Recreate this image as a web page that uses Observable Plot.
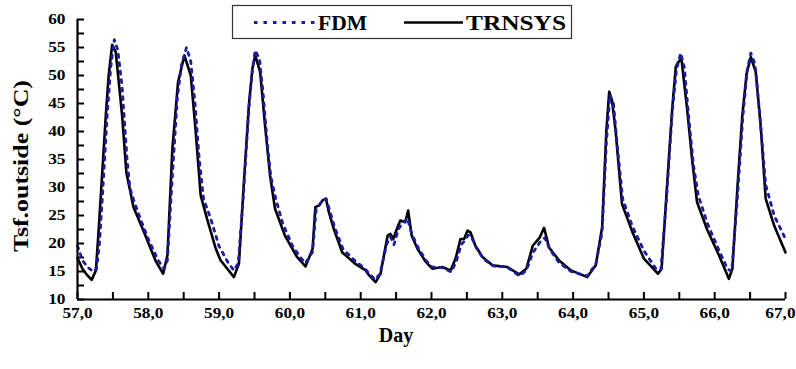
<!DOCTYPE html>
<html>
<head>
<meta charset="utf-8">
<script src="https://cdn.jsdelivr.net/npm/d3@7"></script>
<script src="https://cdn.jsdelivr.net/npm/@observablehq/plot@0.6"></script>
<style>
  html, body { margin: 0; padding: 0; background: #fff; }
  #chart { width: 796px; height: 369px; }
</style>
</head>
<body>
<div id="chart"></div>
<script>
// ---- Data ----
const seriesNames = ["FDM", "TRNSYS"];

const trnsysDay = [57.00,57.07,57.14,57.20,57.26,57.30,57.40,57.44,57.49,57.54,57.63,57.69,57.79,57.94,58.10,58.21,58.27,58.34,58.42,58.51,58.60,58.67,58.74,58.83,58.95,59.02,59.21,59.28,59.35,59.42,59.47,59.51,59.58,59.65,59.72,59.79,59.93,60.10,60.22,60.32,60.36,60.41,60.46,60.51,60.55,60.62,60.74,60.93,61.07,61.12,61.21,61.28,61.38,61.42,61.46,61.52,61.56,61.63,61.67,61.72,61.80,61.92,62.01,62.15,62.27,62.34,62.41,62.46,62.51,62.55,62.62,62.72,62.86,63.07,63.24,63.34,63.43,63.53,63.59,63.66,63.80,63.97,64.20,64.32,64.41,64.47,64.51,64.55,64.60,64.69,64.83,65.00,65.20,65.25,65.33,65.40,65.45,65.48,65.53,65.61,65.68,65.75,65.89,66.06,66.20,66.25,66.32,66.39,66.45,66.51,66.58,66.65,66.72,66.84,67.00];
const trnsysT   = [17.4,15.5,14.3,13.5,15.2,22.6,42.9,50.0,55.5,54.2,42.9,32.7,26.5,22.0,17.0,14.6,17.9,36.9,48.8,53.6,50.0,39.9,28.6,24.4,19.2,17.0,14.0,16.4,30.9,44.6,51.2,53.6,50.6,40.9,32.1,26.2,21.4,17.6,15.9,19.0,26.5,26.8,27.7,28.0,25.6,22.6,18.4,16.3,15.2,14.3,13.1,14.6,21.4,21.7,20.8,22.9,24.1,23.8,25.9,21.4,19.1,16.7,15.5,15.8,15.2,17.3,20.8,20.8,22.3,22.0,19.6,17.6,16.1,15.8,14.5,15.5,19.6,21.1,22.8,19.3,17.0,15.2,14.0,16.1,22.9,40.2,47.1,45.5,40.2,27.1,22.3,17.3,14.6,15.5,30.9,44.1,51.5,52.3,53.0,44.1,35.1,27.4,22.6,17.9,13.7,15.5,29.8,42.9,50.3,53.3,50.6,40.9,28.0,23.2,18.4];

const fdmDay = [57.00,57.07,57.14,57.22,57.27,57.31,57.35,57.42,57.47,57.52,57.57,57.63,57.70,57.74,57.80,57.90,58.01,58.14,58.22,58.27,58.33,58.41,58.47,58.54,58.60,58.66,58.72,58.78,58.88,59.00,59.13,59.21,59.27,59.34,59.42,59.47,59.51,59.57,59.62,59.68,59.73,59.80,59.90,60.04,60.15,60.22,60.32,60.37,60.45,60.51,60.56,60.63,60.75,60.93,61.05,61.13,61.20,61.27,61.37,61.42,61.47,61.53,61.58,61.66,61.72,61.80,61.92,62.01,62.15,62.28,62.35,62.42,62.47,62.52,62.56,62.63,62.73,62.87,63.07,63.24,63.34,63.43,63.53,63.60,63.67,63.80,63.97,64.20,64.32,64.41,64.47,64.52,64.57,64.62,64.70,64.83,65.00,65.17,65.24,65.32,65.40,65.46,65.52,65.57,65.63,65.70,65.77,65.90,66.06,66.18,66.24,66.32,66.40,66.46,66.51,66.57,66.63,66.72,66.84,67.00];
const fdmT   = [19.6,17.0,15.8,15.0,15.5,20.0,28.0,43.0,51.5,56.4,54.5,48.0,35.0,30.0,27.5,24.0,20.5,17.0,15.5,17.0,30.0,46.0,52.0,55.0,52.5,45.0,35.0,28.0,24.5,19.5,16.5,15.2,16.5,28.0,44.0,51.0,54.5,53.0,47.0,38.0,32.0,28.0,23.5,19.5,17.5,16.5,18.5,26.0,27.5,28.0,26.0,23.0,19.0,16.8,15.6,14.5,13.6,14.5,20.0,21.2,19.8,22.5,23.5,24.5,21.8,19.5,17.0,15.8,15.7,14.9,16.8,19.8,20.5,21.5,21.3,19.3,17.3,16.0,15.8,14.2,15.2,18.3,20.2,21.0,19.0,16.6,15.0,14.2,16.3,22.0,38.0,46.5,45.0,38.0,28.0,23.3,18.7,15.5,15.3,28.0,43.5,51.0,54.0,51.5,43.0,34.0,28.5,23.5,18.8,15.5,15.0,28.0,43.0,51.0,54.0,52.0,44.0,30.5,25.0,20.8];

const xMajorTicks = [57,58,59,60,61,62,63,64,65,66,67];
const xMinorTicks = [57.5,58.5,59.5,60.5,61.5,62.5,63.5,64.5,65.5,66.5];
const yMajorTicks = [10,15,20,25,30,35,40,45,50,55,60];
const yMinorTicks = [12.5,17.5,22.5,27.5,32.5,37.5,42.5,47.5,52.5,57.5];

const xTitle = "Day";
const yTitle = "Tsf.outside (°C)";

// ---- Build tables ----
const trnsysRows = trnsysDay.map((d, i) => ({day: d, t: trnsysT[i], series: seriesNames[1]}));
const fdmRows = fdmDay.map((d, i) => ({day: d, t: fdmT[i], series: seriesNames[0]}));

const W = 796, H = 369, mL = 77, mR = 11, mT = 19, mB = 70;
const frameW = W - mL - mR, frameH = H - mT - mB;
const tickLen = 7;
const fdmColor = "#1c1c9e";
const fontFam = "'Liberation Serif','Times New Roman',serif";

const plot = Plot.plot({
  width: W, height: H,
  marginLeft: mL, marginRight: mR, marginTop: mT, marginBottom: mB,
  style: {fontFamily: fontFam, fontWeight: "bold", fontSize: "15px", color: "#000", background: "#fff", overflow: "visible"},
  x: {domain: [57, 67]},
  y: {domain: [10, 60]},
  marks: [
    Plot.axisX(xMajorTicks, {tickSize: 0, tickPadding: 8, tickFormat: d => d.toFixed(1).replace(".", ","), label: null, fontSize: 15}),
    Plot.axisY(yMajorTicks, {tickSize: 0, tickPadding: 12, label: null, fontSize: 15}),
    Plot.tickX(xMajorTicks.concat(xMinorTicks), {x: d => d, insetTop: frameH - tickLen, stroke: "#000", strokeWidth: 2}),
    Plot.tickY(yMajorTicks.concat(yMinorTicks), {y: d => d, insetRight: frameW - tickLen, stroke: "#000", strokeWidth: 2}),
    Plot.line(trnsysRows, {x: "day", y: "t", stroke: "#000", strokeWidth: 2.6, strokeLinejoin: "round"}),
    Plot.line(fdmRows, {x: "day", y: "t", stroke: fdmColor, strokeWidth: 2.8, strokeDasharray: "3,5.5"}),
    Plot.ruleY([10], {stroke: "#000", strokeWidth: 2.2}),
    Plot.ruleX([57], {stroke: "#000", strokeWidth: 2.2})
  ]
});

document.getElementById("chart").appendChild(plot);

const svg = d3.select(plot);

// stretch tick labels horizontally like the reference
svg.selectAll('g[aria-label="x-axis tick label"] text, g[aria-label="y-axis tick label"] text').each(function () {
  const w = this.getComputedTextLength();
  this.setAttribute("textLength", (w * 1.15).toFixed(1));
  this.setAttribute("lengthAdjust", "spacingAndGlyphs");
});
// keep the last x label inside the picture, flush with its right edge
const xLabels = svg.selectAll('g[aria-label="x-axis tick label"] text').nodes();
if (xLabels.length) {
  const last = xLabels[xLabels.length - 1];
  last.setAttribute("text-anchor", "end");
  last.setAttribute("x", mR - 1);
}

// axis titles
svg.append("text")
  .attr("x", 396).attr("y", 342)
  .attr("text-anchor", "middle")
  .attr("font-family", fontFam).attr("font-weight", "bold").attr("font-size", 20)
  .attr("fill", "#000")
  .text(xTitle);

svg.append("text")
  .attr("transform", "translate(28,166) rotate(-90)")
  .attr("text-anchor", "middle")
  .attr("font-family", fontFam).attr("font-weight", "bold").attr("font-size", 20)
  .attr("textLength", 172).attr("lengthAdjust", "spacingAndGlyphs")
  .attr("fill", "#000")
  .text(yTitle);

// legend box
const lg = svg.append("g").attr("class", "legend").attr("text-anchor", "start");
lg.append("rect").attr("x", 232.5).attr("y", 5.5).attr("width", 339).attr("height", 33)
  .attr("fill", "#fff").attr("stroke", "#333").attr("stroke-width", 1.2);
lg.append("line").attr("x1", 254).attr("x2", 315).attr("y1", 22.5).attr("y2", 22.5)
  .attr("stroke", fdmColor).attr("stroke-width", 2.8).attr("stroke-dasharray", "3.5,6");
lg.append("text").attr("x", 318).attr("y", 29.5).attr("text-anchor", "start")
  .attr("font-family", fontFam).attr("font-weight", "bold").attr("font-size", 20)
  .attr("textLength", 49).attr("lengthAdjust", "spacingAndGlyphs")
  .text(seriesNames[0]);
lg.append("line").attr("x1", 404).attr("x2", 463).attr("y1", 22.5).attr("y2", 22.5)
  .attr("stroke", "#000").attr("stroke-width", 2.6);
lg.append("text").attr("x", 466).attr("y", 29.5).attr("text-anchor", "start")
  .attr("font-family", fontFam).attr("font-weight", "bold").attr("font-size", 20)
  .attr("textLength", 100).attr("lengthAdjust", "spacingAndGlyphs")
  .text(seriesNames[1]);
</script>
</body>
</html>
